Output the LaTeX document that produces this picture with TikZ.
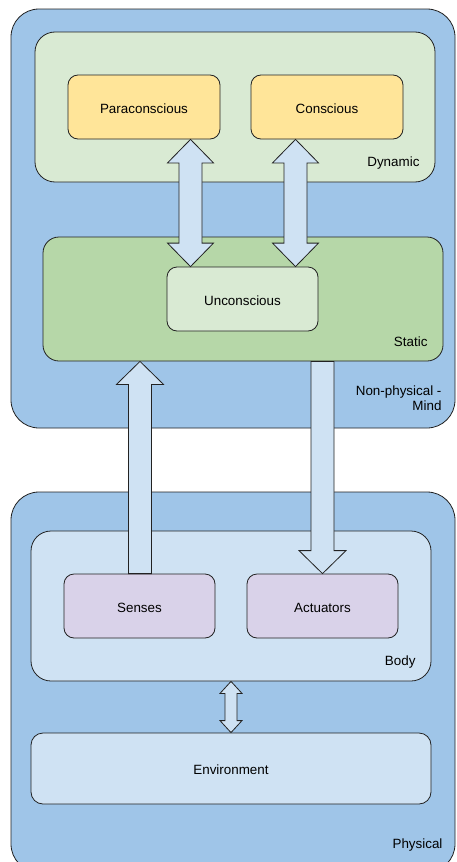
\documentclass[tikz,border=0pt]{standalone}
\usepackage{fontspec}
\setmainfont{Liberation Sans}
\usetikzlibrary{calc}
\definecolor{outerblue}{HTML}{9FC5E8}
\definecolor{lightblue}{HTML}{CFE2F3}
\definecolor{lightgreen}{HTML}{D9EAD3}
\definecolor{midgreen}{HTML}{B6D7A8}
\definecolor{paleyellow}{HTML}{FFE599}
\definecolor{palepurple}{HTML}{D9D2E9}
\definecolor{edge}{HTML}{222222}
\tikzset{
  box/.style={draw=edge, line width=0.8pt, rectangle, inner sep=0pt},
  txt/.style={font=\fontsize{13.4}{15}\selectfont, text=black},
  arrowfill/.style={draw=edge, line width=0.8pt, fill=lightblue, line join=miter},
}
% vertical block arrows
% #1 x centre, #2 lower anchor, #3 upper anchor, #4 half shaft, #5 half head, #6 head length
\newcommand\uparrowblock[6]{%
  \draw[arrowfill] let \p1=(#2), \p2=(#3) in
    (#1-#4,\y1) -- (#1-#4,\y2-#6) -- (#1-#5,\y2-#6) -- (#1,\y2) -- (#1+#5,\y2-#6)
    -- (#1+#4,\y2-#6) -- (#1+#4,\y1) -- cycle;}
\newcommand\downarrowblock[6]{%
  \draw[arrowfill] let \p1=(#2), \p2=(#3) in
    (#1-#4,\y2) -- (#1-#4,\y1+#6) -- (#1-#5,\y1+#6) -- (#1,\y1) -- (#1+#5,\y1+#6)
    -- (#1+#4,\y1+#6) -- (#1+#4,\y2) -- cycle;}
\newcommand\dblarrowblock[6]{%
  \draw[arrowfill] let \p1=(#2), \p2=(#3) in
    (#1,\y2) -- (#1+#5,\y2-#6) -- (#1+#4,\y2-#6) -- (#1+#4,\y1+#6) -- (#1+#5,\y1+#6)
    -- (#1,\y1) -- (#1-#5,\y1+#6) -- (#1-#4,\y1+#6) -- (#1-#4,\y2-#6) -- (#1-#5,\y2-#6) -- cycle;}
\begin{document}
\begin{tikzpicture}[x=1pt,y=1pt]
\useasboundingbox (0,0) rectangle (456,-862);
\fill[white] (0,0) rectangle (456,-862);

% Mind
\node[box, fill=outerblue, rounded corners=28pt, minimum width=444pt, minimum height=419pt] (mind) at (233,-218.5) {};
\node[box, fill=lightgreen, rounded corners=20pt, minimum width=400pt, minimum height=150pt] (dynamic) at (235,-107) {};
\node[box, fill=paleyellow, rounded corners=10pt, minimum width=152pt, minimum height=64pt] (para) at (144,-107) {};
\node[txt] (paratxt) at ([yshift=-1.5pt]para.center) {Paraconscious};
\node[box, fill=paleyellow, rounded corners=10pt, minimum width=152pt, minimum height=64pt] (cons) at (327,-107) {};
\node[txt] (constxt) at ([yshift=-1.5pt]cons.center) {Conscious};
\node[txt, anchor=east] (dynlabel) at (423,-163) {Dynamic};

\node[box, fill=midgreen, rounded corners=16pt, minimum width=400pt, minimum height=124pt] (static) at (243,-299) {};
\node[box, fill=lightgreen, rounded corners=10pt, minimum width=151pt, minimum height=64pt] (uncon) at (242.5,-299) {};
\node[txt] (uncontxt) at ([yshift=-1.5pt]uncon.center) {Unconscious};
\node[txt, anchor=east] (statlabel) at (431,-342) {Static};
\node[txt, anchor=east, align=right] (mindlabel) at (445,-398) {Non-physical -\\Mind};

% Physical
\node[box, fill=outerblue, rounded corners=28pt, minimum width=444pt, minimum height=380pt] (phys) at (233,-682) {};
\node[box, fill=lightblue, rounded corners=20pt, minimum width=400pt, minimum height=150pt] (body) at (231,-606) {};
\node[box, fill=palepurple, rounded corners=10pt, minimum width=151pt, minimum height=64pt] (senses) at (139.5,-606) {};
\node[txt] (sensestxt) at ([yshift=-1.5pt]senses.center) {Senses};
\node[box, fill=palepurple, rounded corners=10pt, minimum width=151pt, minimum height=64pt] (act) at (322.5,-606) {};
\node[txt] (acttxt) at ([yshift=-1.5pt]act.center) {Actuators};
\node[txt, anchor=east] (bodylabel) at (419,-662) {Body};
\node[box, fill=lightblue, rounded corners=12pt, minimum width=400pt, minimum height=71pt] (env) at (231,-768.5) {};
\node[txt] (envtxt) at ([yshift=-1.5pt]env.center) {Environment};
\node[txt, anchor=east] (physlabel) at (446,-845) {Physical};

% arrows
\dblarrowblock{190.5}{uncon.north}{para.south}{11.5}{23}{23.5}
\dblarrowblock{295.5}{uncon.north}{cons.south}{11.5}{23}{23.5}
\uparrowblock{140}{senses.north}{static.south}{11.5}{23.5}{23}
\downarrowblock{322.5}{act.north}{static.south}{11.5}{23.5}{23}
\dblarrowblock{231}{env.north}{body.south}{6}{11}{12}
\end{tikzpicture}
\end{document}
